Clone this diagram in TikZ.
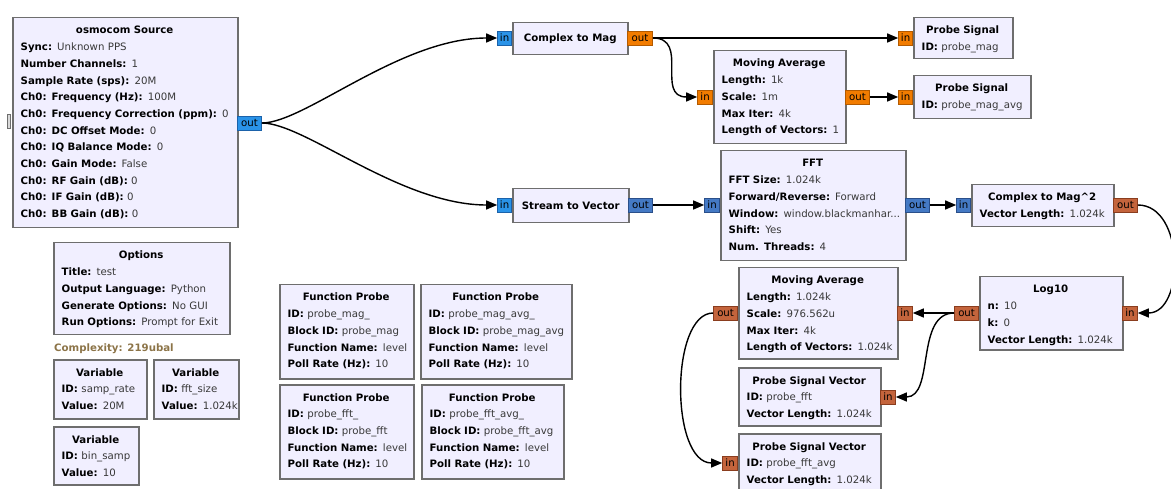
\documentclass[tikz,border=0pt]{standalone}
\usepackage{fontspec}
\setmainfont{DejaVu Sans}
\usetikzlibrary{arrows.meta}
\definecolor{blockfill}{HTML}{F1EFFF}
\definecolor{boxgray}{HTML}{6E6E6E}
\definecolor{valgray}{HTML}{383838}
\definecolor{cfill}{HTML}{2A93E8}
\definecolor{cdraw}{HTML}{1B62AA}
\definecolor{cvfill}{HTML}{4479C4}
\definecolor{cvdraw}{HTML}{2A4F8A}
\definecolor{ffill}{HTML}{F27C00}
\definecolor{fdraw}{HTML}{B35A00}
\definecolor{fvfill}{HTML}{C4643C}
\definecolor{fvdraw}{HTML}{8A3D1E}
\definecolor{cplx}{HTML}{8C7448}
\newcommand\grcfont{\fontsize{10.2}{16.7}\selectfont}
\newcommand\grckv[2]{\mbox{\textbf{#1:} {\color{valgray}#2}}}
\newcommand\grctitle[1]{{\centering\mbox{\textbf{#1}}\par}}
\tikzset{
  blockbox/.style={draw=boxgray, line width=1.5pt, fill=blockfill, anchor=north west, inner sep=0pt},
  blocktxt/.style={anchor=base west, inner sep=0pt, align=left, font=\grcfont, text=black},
  port/.style={draw, line width=0.8pt, inner sep=0pt, minimum height=14pt, font=\grcfont, text=black},
  inport/.style={port, minimum width=15pt},
  outport/.style={port, minimum width=24pt},
  cport/.style={fill=cfill, draw=cdraw},
  cvport/.style={fill=cvfill, draw=cvdraw},
  fport/.style={fill=ffill, draw=fdraw},
  fvport/.style={fill=fvfill, draw=fvdraw},
  edge/.style={line width=1.4pt, draw=black, -{Triangle[length=11pt,width=9pt]}},
}
\newcommand\grcbox[6]{%
  \node[blockbox, minimum width=#4pt, minimum height=#5pt] (#1) at (#2,#3) {};
  \pgfmathsetmacro\grctw{#4-17}%
  \node[blocktxt, text width=\grctw pt] (#1-t) at ([shift={(8.5pt,-17pt)}]#1.north west) {#6};}
\begin{document}
\begin{tikzpicture}[x=1pt,y=-1pt]
\useasboundingbox (0,0) rectangle (1171,489);

% osmocom source
\grcbox{osmo}{12}{17}{225}{210}{\grctitle{osmocom Source}
\grckv{Sync}{Unknown PPS}\\
\grckv{Number Channels}{1}\\
\grckv{Sample Rate (sps)}{20M}\\
\grckv{Ch0: Frequency (Hz)}{100M}\\
\grckv{Ch0: Frequency Correction (ppm)}{0}\\
\grckv{Ch0: DC Offset Mode}{0}\\
\grckv{Ch0: IQ Balance Mode}{0}\\
\grckv{Ch0: Gain Mode}{False}\\
\grckv{Ch0: RF Gain (dB)}{0}\\
\grckv{Ch0: IF Gain (dB)}{0}\\
\grckv{Ch0: BB Gain (dB)}{0}}
\node[draw=boxgray, fill=gray!30, line width=0.6pt, inner sep=0pt, minimum width=3pt, minimum height=14pt, anchor=east] (osmo-stub) at (11,121) {};
\node[outport, cport, anchor=west] (osmo-out) at (237,123) {out};

% complex to mag
\node[blockbox, minimum width=115pt, minimum height=32pt] (cmag) at (512,22) {};
\node[font=\grcfont\bfseries, inner sep=0pt] (cmag-t) at (cmag.center) {Complex to Mag};
\node[inport, cport, minimum width=14pt, anchor=east] (cmag-in) at (512,38) {in};
\node[outport, fport, minimum width=25pt, anchor=west] (cmag-out) at (627,38) {out};

% probe signal 1
\grcbox{probeA}{913}{17}{99}{41}{\grctitle{Probe Signal}
\grckv{ID}{probe\_mag}}
\node[inport, fport, minimum width=14pt, anchor=east] (probeA-in) at (913,38) {in};

% moving average 1
\grcbox{maA}{713}{50}{132}{93}{\grctitle{Moving Average}
\grckv{Length}{1k}\\
\grckv{Scale}{1m}\\
\grckv{Max Iter}{4k}\\
\grckv{Length of Vectors}{1}}
\node[inport, fport, anchor=east] (maA-in) at (713,97) {in};
\node[outport, fport, anchor=west] (maA-out) at (845,97) {out};

% probe signal 2
\grcbox{probeB}{913}{75}{117}{43}{\grctitle{Probe Signal}
\grckv{ID}{probe\_mag\_avg}}
\node[inport, fport, minimum width=14pt, anchor=east] (probeB-in) at (913,97) {in};

% stream to vector
\node[blockbox, minimum width=116pt, minimum height=34pt] (s2v) at (512,188) {};
\node[font=\grcfont\bfseries, inner sep=0pt] (s2v-t) at (s2v.center) {Stream to Vector};
\node[inport, cport, minimum width=14pt, anchor=east] (s2v-in) at (512,205) {in};
\node[outport, cvport, anchor=west] (s2v-out) at (628,205) {out};

% FFT
\grcbox{fft}{720}{150}{185}{110}{\grctitle{FFT}
\grckv{FFT Size}{1.024k}\\
\grckv{Forward/Reverse}{Forward}\\
\grckv{Window}{window.blackmanhar...}\\
\grckv{Shift}{Yes}\\
\grckv{Num. Threads}{4}}
\node[inport, cvport, anchor=east] (fft-in) at (720,205) {in};
\node[outport, cvport, anchor=west] (fft-out) at (905,205) {out};

% complex to mag^2
\grcbox{cmsq}{971}{184}{142}{42}{\grctitle{Complex to Mag\string^2}
\grckv{Vector Length}{1.024k}}
\node[inport, cvport, minimum width=14pt, anchor=east] (cmsq-in) at (971,205) {in};
\node[outport, fvport, anchor=west] (cmsq-out) at (1113,205) {out};

% log10
\grcbox{logt}{979}{276}{143}{73}{\grctitle{Log10}
\grckv{n}{10}\\
\grckv{k}{0}\\
\grckv{Vector Length}{1.024k}}
\node[inport, fvport, anchor=west] (logt-in) at (1122,313) {in};
\node[outport, fvport, anchor=east] (logt-out) at (979,313) {out};

% moving average 2
\grcbox{maB}{738}{267}{159}{91}{\grctitle{Moving Average}
\grckv{Length}{1.024k}\\
\grckv{Scale}{976.562u}\\
\grckv{Max Iter}{4k}\\
\grckv{Length of Vectors}{1.024k}}
\node[inport, fvport, anchor=west] (maB-in) at (897,313) {in};
\node[outport, fvport, anchor=east] (maB-out) at (738,313) {out};

% probe signal vector 1
\grcbox{psvA}{738}{367}{142}{58}{\grctitle{Probe Signal Vector}
\grckv{ID}{probe\_fft}\\
\grckv{Vector Length}{1.024k}}
\node[inport, fvport, anchor=west] (psvA-in) at (880,397) {in};

% probe signal vector 2
\grcbox{psvB}{738}{433}{142}{64}{\grctitle{Probe Signal Vector}
\grckv{ID}{probe\_fft\_avg}\\
\grckv{Vector Length}{1.024k}}
\node[inport, fvport, anchor=east] (psvB-in) at (738,463) {in};

% options
\grcbox{opts}{53}{242}{176}{92}{\grctitle{Options}
\grckv{Title}{test}\\
\grckv{Output Language}{Python}\\
\grckv{Generate Options}{No GUI}\\
\grckv{Run Options}{Prompt for Exit}}
\node[anchor=base west, inner sep=0pt, font=\grcfont\bfseries, text=cplx] (cplx) at (54,352) {Complexity: 219ubal};

% variables
\grcbox{varA}{53}{359}{93}{59}{\grctitle{Variable}
\grckv{ID}{samp\_rate}\\
\grckv{Value}{20M}}
\grcbox{varB}{153}{359}{85}{59}{\grctitle{Variable}
\grckv{ID}{fft\_size}\\
\grckv{Value}{1.024k}}
\grcbox{varC}{53}{426}{85}{58}{\grctitle{Variable}
\grckv{ID}{bin\_samp}\\
\grckv{Value}{10}}

% function probes
\grcbox{fpA}{279}{284}{134}{94}{\grctitle{Function Probe}
\grckv{ID}{probe\_mag\_}\\
\grckv{Block ID}{probe\_mag}\\
\grckv{Function Name}{level}\\
\grckv{Poll Rate (Hz)}{10}}
\grcbox{fpB}{420}{284}{151}{94}{\grctitle{Function Probe}
\grckv{ID}{probe\_mag\_avg\_}\\
\grckv{Block ID}{probe\_mag\_avg}\\
\grckv{Function Name}{level}\\
\grckv{Poll Rate (Hz)}{10}}
\grcbox{fpC}{279}{384}{134}{94}{\grctitle{Function Probe}
\grckv{ID}{probe\_fft\_}\\
\grckv{Block ID}{probe\_fft}\\
\grckv{Function Name}{level}\\
\grckv{Poll Rate (Hz)}{10}}
\grcbox{fpD}{421}{384}{142}{94}{\grctitle{Function Probe}
\grckv{ID}{probe\_fft\_avg\_}\\
\grckv{Block ID}{probe\_fft\_avg}\\
\grckv{Function Name}{level}\\
\grckv{Poll Rate (Hz)}{10}}

% connections
\draw[edge] (osmo-out.east) .. controls (305,123) and (400,38) .. (cmag-in.west);
\draw[edge] (osmo-out.east) .. controls (305,123) and (400,205) .. (s2v-in.west);
\draw[edge] (cmag-out.east) -- (probeA-in.west);
\draw[edge] (cmag-out.east) .. controls (690,38) and (655,97) .. (maA-in.west);
\draw[edge] (maA-out.east) -- (probeB-in.west);
\draw[edge] (s2v-out.east) -- (fft-in.west);
\draw[edge] (fft-out.east) -- (cmsq-in.west);
\draw[edge] (cmsq-out.east) .. controls (1185,205) and (1185,313) .. (logt-in.east);
\draw[edge] (logt-out.west) -- (maB-in.east);
\draw[edge] (logt-out.west) .. controls (915,313) and (935,397) .. (psvA-in.east);
\draw[edge] (maB-out.west) .. controls (670,313) and (670,463) .. (psvB-in.west);
\end{tikzpicture}
\end{document}
